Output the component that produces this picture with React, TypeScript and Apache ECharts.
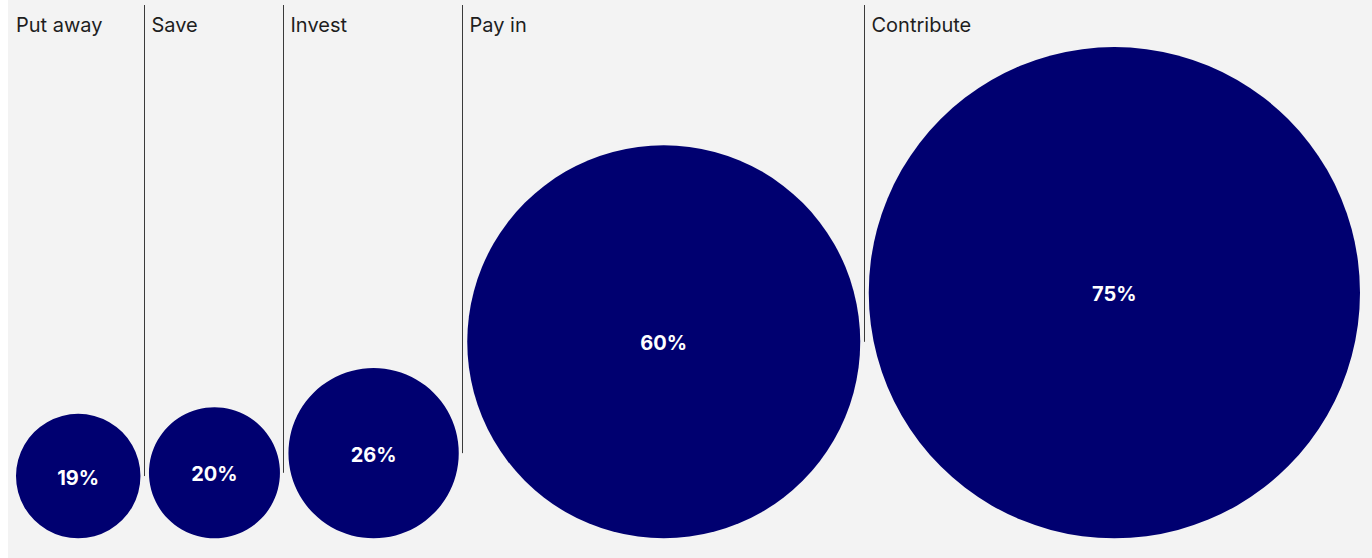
import React, { useEffect, useRef } from "react";
import * as echarts from "echarts";

const categories = ["Put away", "Save", "Invest", "Pay in", "Contribute"];
const values = [19, 20, 26, 60, 75];
const valueLabels = ["19%", "20%", "26%", "60%", "75%"];

const W = 1364;
const H = 558;
const K = 3.275; // px per percentage point (radius)
const LEFT_PAD = 8 / K;
const GAP = 8.5 / K;
const BASE = 19.7 / K;

export default function App() {
  const ref = useRef<HTMLDivElement>(null);
  useEffect(() => {
    if (!ref.current) return;
    const chart = echarts.init(ref.current, null, { renderer: "svg" });
    let cursor = LEFT_PAD;
    const data = values.map((v, i) => {
      const left = cursor;
      const cx = left + v;
      const cy = BASE + v;
      const sepX = i > 0 ? left - GAP / 2 : -1;
      const prevCy = i > 0 ? BASE + values[i - 1] : 0;
      cursor = left + 2 * v + GAP;
      return { value: [cx, cy, v, sepX, prevCy, i], name: categories[i] };
    });
    chart.setOption({
      animation: false,
      backgroundColor: "#f3f3f3",
      grid: { left: 0, right: 0, top: 0, bottom: 0 },
      xAxis: { type: "value", min: 0, max: W / K, show: false },
      yAxis: { type: "value", min: 0, max: H / K, show: false },
      series: [
        {
          type: "custom",
          data,
          renderItem: (params: any, api: any) => {
            const cx = api.value(0);
            const cy = api.value(1);
            const v = api.value(2);
            const sepX = api.value(3);
            const prevCy = api.value(4);
            const idx = api.value(5);
            const c = api.coord([cx, cy]);
            const r = api.size([v, 0])[0];
            const children: any[] = [
              {
                type: "circle",
                shape: { cx: c[0], cy: c[1], r },
                style: { fill: "#000070" },
              },
              {
                type: "text",
                style: {
                  text: valueLabels[idx],
                  x: c[0],
                  y: c[1] + 1.5,
                  fill: "#ffffff",
                  font: "700 20px Inter",
                  align: "center",
                  verticalAlign: "middle",
                },
              },
            ];
            let labelX = api.coord([LEFT_PAD, 0])[0];
            if (idx > 0) {
              const s = api.coord([sepX, prevCy]);
              const sx = Math.round(s[0]) - 0.5;
              children.push({
                type: "line",
                shape: { x1: sx, y1: 5, x2: sx, y2: s[1] },
                style: { stroke: "#3a3a3a", lineWidth: 1 },
              });
              labelX = sx + 7;
            }
            children.push({
              type: "text",
              style: {
                text: categories[idx],
                x: labelX,
                y: 25,
                fill: "#1e1e1e",
                font: "400 20px Inter",
                align: "left",
                verticalAlign: "middle",
              },
            });
            return { type: "group", children };
          },
        },
      ],
    });
    return () => chart.dispose();
  }, []);
  return (
    <div
      ref={ref}
      style={{ position: "absolute", left: 8, top: 0, width: W, height: H }}
    />
  );
}
